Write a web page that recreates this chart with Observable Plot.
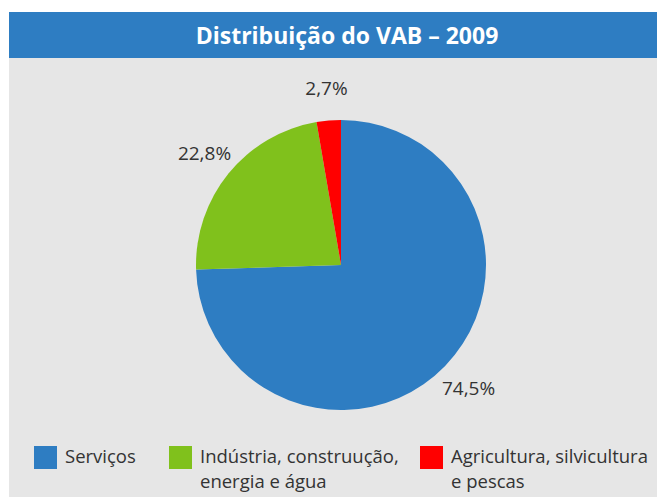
<!DOCTYPE html>
<html>
<head>
<meta charset="utf-8">
<script src="https://cdn.jsdelivr.net/npm/d3@7"></script>
<script src="https://cdn.jsdelivr.net/npm/@observablehq/plot@0.6"></script>
<style>
  html, body { margin: 0; padding: 0; background: #ffffff; }
  body { width: 657px; height: 497px; overflow: hidden; font-family: "Open Sans", sans-serif; }
  #wrap { position: absolute; left: 9px; top: 12px; width: 648px; }
  #title { height: 46px; background: #2e7dc2; color: #fff; font-weight: 700; font-size: 23px;
           display: flex; align-items: center; justify-content: center; padding-left: 28px; box-sizing: border-box; }
  #chart svg { display: block; }
  #legend { position: relative; background: #e6e6e6; height: 69px; font-size: 18.5px; color: #333; }
  .item { position: absolute; top: 15px; display: flex; align-items: flex-start; line-height: 25px; }
  .sw { width: 23px; height: 23px; margin-top: 3px; margin-right: 8px; flex: none; }
</style>
</head>
<body>
<div id="wrap">
  <div id="title">Distribuição do VAB – 2009</div>
  <div id="chart"></div>
  <div id="legend"></div>
</div>
<script>
const categories = ["Serviços", "Indústria, construução, energia e água", "Agricultura, silvicultura e pescas"];
const legendLines = [["Serviços"], ["Indústria, construução,", "energia e água"], ["Agricultura, silvicultura", "e pescas"]];
const values = [74.5, 22.8, 2.7];
const labels = ["74,5%", "22,8%", "2,7%"];
const colors = ["#2e7dc2", "#80c11c", "#ff0000"];

const W = 648, H = 370;
const R = 145;
const total = d3.sum(values);
let acc = 0;
const slices = categories.map((c, i) => {
  const a0 = acc / total * 2 * Math.PI;
  acc += values[i];
  const a1 = acc / total * 2 * Math.PI;
  const mid = (a0 + a1) / 2;
  return {category: c, value: values[i], label: labels[i], a0, a1,
          lx: 1.22 * Math.sin(mid), ly: 1.22 * Math.cos(mid)};
});

const cx = 332, cy = 207;
const pieMark = (index, scales) => {
  const g = d3.create("svg:g");
  const x0 = scales.x(0), y0 = scales.y(0);
  const rad = Math.abs(scales.x(1) - scales.x(0));
  const arc = d3.arc().innerRadius(0).outerRadius(rad);
  g.selectAll("path").data(slices).join("path")
    .attr("transform", `translate(${x0},${y0})`)
    .attr("d", d => arc({startAngle: d.a0, endAngle: d.a1}))
    .attr("fill", d => scales.color(d.category))
    .attr("stroke", "none");
  return g.node();
};

const plot = Plot.plot({
  width: W, height: H,
  margin: 0,
  style: {background: "#e6e6e6", fontFamily: "Open Sans, sans-serif"},
  x: {domain: [-1, 1], range: [cx - R, cx + R], axis: null},
  y: {domain: [-1, 1], range: [cy + R, cy - R], axis: null},
  color: {domain: categories, range: colors},
  marks: [
    pieMark,
    Plot.text(slices, {x: "lx", y: "ly", text: "label", fontSize: 19, fill: "#333"})
  ]
});
document.getElementById("chart").appendChild(plot);

const lx = [25, 160, 411];
const leg = document.getElementById("legend");
categories.forEach((c, i) => {
  const it = document.createElement("div");
  it.className = "item";
  it.style.left = lx[i] + "px";
  it.innerHTML = `<div class="sw" style="background:${colors[i]}"></div><div>${legendLines[i].join("<br>")}</div>`;
  leg.appendChild(it);
});
</script>
</body>
</html>
